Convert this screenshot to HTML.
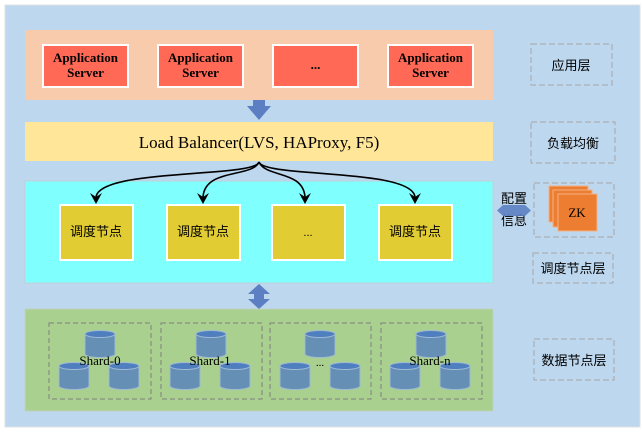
<!DOCTYPE html>
<html><head><meta charset="utf-8"><style>
html,body{margin:0;padding:0;background:#fff;}
svg{display:block;}
</style></head><body>
<svg width="644" height="434" viewBox="0 0 644 434" xmlns="http://www.w3.org/2000/svg" font-family="'Liberation Serif','Noto Serif CJK SC',serif">
<defs>
<g id="cyl">
<path d="M0,4 L0,24 A15,3.5 0 0 0 30,24 L30,4" fill="#658fb5" stroke="#9fbad3" stroke-width="1"/>
<ellipse cx="15" cy="4" rx="15" ry="3.5" fill="#4f7fbf" stroke="#9fbad3" stroke-width="1"/>
</g>
<path id="ah" d="M-6,-11 L0,0 L6,-11 L0,-7 Z" fill="#000"/>
</defs>
<rect x="5" y="5" width="635" height="422" fill="#bdd7ee" stroke="#e0e0e0"/>
<rect x="25" y="30" width="468" height="70" fill="#f8cbad"/>
<g font-weight="bold" font-size="13" text-anchor="middle">
<rect x="43" y="45" width="85" height="42" fill="#ff6956" stroke="#fff" stroke-width="2"/>
<text x="85.5" y="62">Application</text><text x="85.5" y="77">Server</text>
<rect x="158" y="45" width="85" height="42" fill="#ff6956" stroke="#fff" stroke-width="2"/>
<text x="200.5" y="62">Application</text><text x="200.5" y="77">Server</text>
<rect x="273" y="45" width="85" height="42" fill="#ff6956" stroke="#fff" stroke-width="2"/>
<text x="315.5" y="69">...</text>
<rect x="388" y="45" width="85" height="42" fill="#ff6956" stroke="#fff" stroke-width="2"/>
<text x="430.5" y="62">Application</text><text x="430.5" y="77">Server</text>
</g>
<path d="M253,100 L265,100 L265,106 L271,106 L259,120 L247,106 L253,106 Z" fill="#5b7fc2"/>
<rect x="25" y="122" width="468" height="39" fill="#ffe699"/>
<text x="259" y="148" font-size="17" text-anchor="middle">Load Balancer(LVS, HAProxy, F5)</text>
<rect x="25" y="181" width="468" height="102" fill="#80ffff" stroke="#c0d0d8"/>
<g fill="none" stroke="#000" stroke-width="1.6">
<path d="M259,162 C255,178 100,168 96,197"/>
<path d="M259,162 C252,178 205,168 203,197"/>
<path d="M259,162 C266,178 303,170 305,197"/>
<path d="M259,162 C264,178 412,168 415,197"/>
</g>
<use href="#ah" x="96" y="204"/><use href="#ah" x="203" y="204"/><use href="#ah" x="305" y="204"/><use href="#ah" x="415" y="204"/>
<g font-size="13" text-anchor="middle" font-family="'Liberation Sans','Noto Sans CJK SC',sans-serif">
<rect x="60" y="205" width="73" height="55" fill="#e2cc33" stroke="#fff" stroke-width="2"/>
<text x="96" y="236">调度节点</text>
<rect x="167" y="205" width="73" height="55" fill="#e2cc33" stroke="#fff" stroke-width="2"/>
<text x="203" y="236">调度节点</text>
<rect x="272" y="205" width="73" height="55" fill="#e2cc33" stroke="#fff" stroke-width="2"/>
<text x="308" y="236" font-size="11">...</text>
<rect x="379" y="205" width="73" height="55" fill="#e2cc33" stroke="#fff" stroke-width="2"/>
<text x="415" y="236">调度节点</text>
</g>
<path d="M259,284 L270,294 L264,294 L264,299 L270,299 L259,309 L248,299 L254,299 L254,294 L248,294 Z" fill="#5b7fc2"/>
<rect x="25" y="309" width="468" height="102" fill="#a9d08e" stroke="#c0d0c0"/>
<g fill="none" stroke="#808080" stroke-dasharray="5,3">
<rect x="49" y="323" width="102" height="76"/>
<rect x="161" y="323" width="101" height="76"/>
<rect x="270" y="323" width="101" height="76"/>
<rect x="381" y="323" width="101" height="76"/>
</g>
<use href="#cyl" x="85" y="330"/><use href="#cyl" x="59" y="362"/><use href="#cyl" x="109" y="362"/>
<use href="#cyl" x="196" y="330"/><use href="#cyl" x="170" y="362"/><use href="#cyl" x="220" y="362"/>
<use href="#cyl" x="305" y="330"/><use href="#cyl" x="280" y="362"/><use href="#cyl" x="330" y="362"/>
<use href="#cyl" x="416" y="330"/><use href="#cyl" x="390" y="362"/><use href="#cyl" x="440" y="362"/>
<g font-size="13" text-anchor="middle">
<text x="100" y="365">Shard-0</text>
<text x="210" y="365">Shard-1</text>
<text x="320" y="366" font-size="11">...</text>
<text x="430" y="365">Shard-n</text>
</g>
<g fill="none" stroke="#a6a6a6" stroke-dasharray="6,3">
<rect x="531" y="44" width="81" height="41"/>
<rect x="531" y="122" width="84" height="41"/>
<rect x="534" y="183" width="80" height="54"/>
<rect x="533" y="253" width="80" height="30"/>
<rect x="534" y="339" width="80" height="41"/>
</g>
<g font-size="13" text-anchor="middle" font-family="'Liberation Sans','Noto Sans CJK SC',sans-serif">
<text x="571" y="70">应用层</text>
<text x="573" y="148">负载均衡</text>
<text x="573" y="273">调度节点层</text>
<text x="574" y="365">数据节点层</text>
<text x="514" y="203">配置</text>
<text x="514" y="225">信息</text>
</g>
<path d="M497,210.5 L503,205 L525,205 L531,210.5 L525,216 L503,216 Z" fill="#5b7fc2" opacity="0.9"/>
<rect x="549" y="186" width="39" height="36" fill="#ed7d31" stroke="#f4b183"/>
<rect x="553" y="190" width="39" height="37" fill="#ed7d31" stroke="#f4b183"/>
<rect x="558" y="194" width="39" height="37" fill="#ed7d31" stroke="#f4b183"/>
<text x="577" y="217" font-size="13" text-anchor="middle">ZK</text>
</svg>
</body></html>
